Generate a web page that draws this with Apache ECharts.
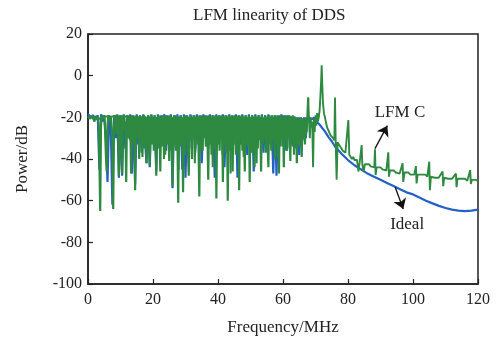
<!DOCTYPE html>
<html><head><meta charset="utf-8">
<script src="https://cdn.jsdelivr.net/npm/echarts@6/dist/echarts.min.js"></script>
<style>html,body{margin:0;padding:0;background:#fff}#c{width:500px;height:342px}</style>
</head><body><div id="c"></div>
<script>
const titleText = 'LFM linearity of DDS';
const xName = 'Frequency/MHz';
const yName = 'Power/dB';
const seriesNames = ['Ideal', 'LFM C'];

// LFM C (green): band samples every 0.25 MHz from 0 to 67.75 MHz (dB)
const lfmStep = 0.25;
const lfmBand = [
  -19.5,-19.8,-20.5,-21,-20.2,-19.5,-19.3,-20,-22,-20,-19.2,-19.6,-21,-23,-40,-65,
  -24,-19,-19.5,-21,-19.5,-26,-38,-46,-24,-19,-19.5,-22,-19.5,-19,-30,-64,
  -24,-19,-20,-28,-19,-22,-48,-20,-19,-36,-47,-20,-19,-26,-22,-51,
  -20,-19,-30,-21,-19,-47,-22,-19,-33,-20,-55,-21,-19,-28,-20,-40,
  -19,-32,-20,-39,-21,-19,-35,-20,-42,-22,-19,-30,-43,-20,-19,-33,
  -20,-36,-19,-28,-48,-20,-31,-19,-26,-46,-20,-34,-19,-30,-22,-38,
  -19,-33,-20,-29,-41,-19,-35,-21,-53,-20,-30,-19,-36,-22,-28,-61,
  -20,-34,-19,-30,-22,-56,-20,-33,-19,-30,-21,-36,-48,-20,-31,-19,
  -40,-20,-30,-19,-35,-21,-29,-19,-33,-58,-20,-31,-19,-36,-22,-30,
  -19,-34,-20,-29,-50,-19,-33,-21,-38,-19,-30,-20,-35,-19,-59,-21,
  -32,-19,-36,-20,-29,-19,-51,-21,-33,-19,-37,-20,-60,-19,-31,-20,
  -35,-19,-46,-21,-30,-19,-38,-20,-33,-19,-55,-21,-31,-19,-36,-20,
  -29,-46,-19,-34,-20,-30,-19,-51,-21,-33,-19,-37,-20,-44,-19,-30,
  -21,-35,-19,-29,-20,-46,-19,-33,-21,-30,-19,-37,-20,-32,-44,-19,
  -31,-20,-35,-19,-29,-21,-40,-19,-33,-20,-30,-47,-19,-34,-21,-29,
  -19,-44,-20,-31,-19,-36,-21,-30,-19,-41,-20,-33,-19,-29,-21,-35,
  -20,-42,-20.5,-31,-20,-34,-21,-39,-20.5,-30,-22,-33,-20,-27,-20,-10.5
];
// LFM C in-between samples (0.125 MHz + k*0.25 MHz), same band
const lfmBandMidStart = 0.125;
const lfmBandMid = [
  -19.6,-20,-20.6,-20.6,-19.8,-19.4,-19.6,-20.5,-21,-19.6,-19.4,-20.3,-21.5,-20.5,-19.8,-20,
  -20.5,-19.4,-19.8,-20.2,-19.6,-20.4,-20,-19.6,-19.5,-19.4,-20,-20.4,-19.5,-19.6,-20.2,-19.8,
  -19.6,-19.5,-20.3,-19.8,-19.5,-20.5,-19.6,-19.5,-20.2,-19.7,-19.5,-20.1,-19.6,-20.4,-19.8,-19.6,
  -19.5,-27,-19.5,-31,-20,-25,-19.5,-29,-20,-33,-19.5,-26,-20,-30,-19.5,-28,
  -20,-31,-19.5,-26,-20,-34,-19.5,-28,-20,-30,-19.5,-37,-20,-27,-19.5,-32,
  -20,-29,-19.5,-33,-20,-26,-19.5,-35,-20,-28,-19.5,-31,-20,-40,-19.5,-27,
  -20,-32,-19.5,-28,-20,-36,-19.5,-30,-20,-26,-19.5,-34,-20,-29,-19.5,-45,
  -20,-27,-19.5,-33,-20,-30,-19.5,-38,-20,-28,-19.5,-32,-20,-26,-19.5,-35,
  -20,-30,-19.5,-42,-20,-27,-19.5,-33,-20,-29,-19.5,-36,-20,-31,-19.5,-26,
  -20,-34,-19.5,-29,-20,-32,-19.5,-27,-20,-44,-19.5,-30,-20,-35,-19.5,-28,
  -20,-31,-19.5,-26,-20,-38,-19.5,-30,-20,-33,-19.5,-28,-20,-36,-19.5,-47,
  -20,-29,-19.5,-33,-20,-27,-19.5,-35,-20,-30,-19.5,-26,-20,-32,-19.5,-39,
  -20,-28,-19.5,-34,-20,-30,-19.5,-26,-20,-37,-19.5,-29,-20,-33,-19.5,-42,
  -20,-27,-19.5,-31,-20,-35,-19.5,-28,-20,-30,-19.5,-34,-20,-26,-19.5,-33,
  -20,-36,-19.5,-29,-20,-31,-19.5,-27,-20,-39,-19.5,-30,-20,-28,-19.5,-34,
  -20.5,-30,-20,-27,-20.5,-35,-20,-29,-20.5,-32,-20,-26,-20.5,-38,-20,-30,
  -20.5,-28,-21,-33,-20.5,-27,-21,-31,-21,-29,-21.5,-26,-21,-24,-20,-19
];
// LFM C tail [MHz, dB]
const lfmTail = [
  [68.0,-21],[68.25,-30],[68.5,-20],[68.75,-25],[69.0,-22],[69.25,-44],[69.5,-21],[69.75,-27],
  [70.0,-19],[70.25,-24],[70.5,-18],[70.75,-22],[71.0,-20],[71.25,-17],[71.5,-10],[71.75,-2],
  [71.9,5],[72.1,-5],[72.3,-13],[72.6,-18],[72.9,-20],[73.3,-23],[73.6,-25],[73.9,-26],
  [74.3,-27.5],[74.6,-28.5],[75.0,-29],[75.4,-30],[75.8,-31],[76.0,-10.5],[76.2,-31],[76.5,-50],
  [76.8,-32],[77.2,-33],[77.6,-34],[78.0,-34.5],[78.4,-36],[78.8,-35.5],[79.2,-37],[79.6,-36.5],
  [80.1,-21.3],[80.4,-38],[80.8,-38.5],[81.2,-40],[81.6,-39],[82.0,-40.5],[82.4,-41],[82.8,-40.5],
  [83.2,-46],[83.6,-41.5],[84.0,-42],[84.2,-33.3],[84.4,-42.5],[84.8,-46],[85.2,-42.5],[85.8,-43],
  [86.4,-42.5],[87.0,-43.5],[87.6,-43],[88.1,-44],[88.3,-35.3],[88.5,-47.7],[88.8,-44],[89.4,-44.5],
  [90.0,-44],[90.6,-45],[91.2,-44.5],[91.8,-45.5],[92.2,-45],[92.4,-36.8],[92.6,-48.5],[92.9,-45.5],
  [93.5,-46],[94.1,-45.5],[94.7,-46.5],[95.3,-46],[95.9,-47],[96.5,-46.5],[96.8,-42],[97.0,-51],
  [97.4,-46.5],[98.0,-47],[98.6,-46.5],[99.2,-47.5],[99.8,-47],[100.4,-47.5],[100.9,-43.4],[101.1,-51.7],
  [101.4,-47.5],[102.0,-48],[102.6,-47.5],[103.2,-48],[103.8,-47.5],[104.4,-48.5],[105.0,-41.3],[105.2,-55],
  [105.5,-48.5],[106.1,-48],[106.7,-49],[107.3,-48.5],[107.9,-49],[108.5,-48.5],[109.1,-46],[109.3,-53],
  [109.6,-49],[110.2,-48.5],[110.8,-49.5],[111.4,-49],[112.0,-49.5],[112.6,-49],[113.2,-47],[113.4,-53.5],
  [113.7,-49.5],[114.3,-50],[114.9,-49.5],[115.5,-50],[116.1,-49.5],[116.7,-50.5],[117.3,-50],[117.6,-45.3],
  [117.8,-52],[118.1,-50],[118.7,-50.5],[119.3,-50],[120.0,-50.5]
];

// Ideal (blue): band samples every 0.5 MHz from 0 to 68 MHz (dB)
const idealStep = 0.5;
const idealBand = [
  -18.5,-19,-20,-19,-18.5,-21,-19,-45,
  -18.5,-22,-19,-30,-51,-19,-24,-62,
  -19,-30,-18.5,-49,-19,-48,-18.5,-35,
  -19,-30,-18.5,-47,-19,-52,-18.5,-33,
  -19,-37,-18.5,-30,-42,-19,-44,-18.5,
  -30,-19,-46,-18.5,-33,-19,-28,-18.5,
  -36,-19,-30,-18.5,-54,-19,-32,-18.5,
  -29,-19,-45,-18.5,-49,-19,-34,-18.5,
  -30,-19,-37,-18.5,-31,-19,-42,-18.5,
  -29,-19,-35,-18.5,-31,-19,-49,-18.5,
  -33,-19,-30,-18.5,-44,-19,-32,-18.5,
  -36,-19,-29,-18.5,-49,-19,-33,-18.5,
  -30,-19,-38,-18.5,-31,-19,-46,-18.5,
  -34,-19,-29,-18.5,-37,-19,-32,-18.5,
  -30,-19,-47,-19,-48,-19,-33,-18.5,
  -31,-19,-36,-19,-30,-19.5,-34,-19.5,
  -32,-20,-38,-20,-31,-20,-30,-21,
  -20
];
// Ideal tail [MHz, dB]
const idealTail = [
  [68.5,-19.5],[69,-21],[69.5,-20],[70,-22],[70.5,-21.5],[71,-23],[71.5,-24],[72,-25],
  [73,-27],[74,-29.5],[75,-31.5],[76,-34],[78,-37.5],[80,-40.5],[82,-43],[84,-45],
  [86,-47],[88,-48.5],[90,-50],[92,-51.5],[94,-53],[96,-54.5],[98,-56],[100,-57],
  [102,-58.5],[104,-60],[106,-61.3],[108,-62.5],[110,-63.5],[112,-64.3],[114,-64.8],[116,-65],
  [118,-64.8],[120,-64.3]
];

// annotation anchors (data units)
const lfmArrow = [[88.3,-35], [92.1,-24]];
const idealArrow = [[94.5,-53.4], [97.0,-64]];
const lfmLabelAt = [96,-17.5];
const idealLabelAt = [98.2,-71.3];

const idealData = idealBand.map((v,i)=>[i*idealStep, v]).concat(idealTail);
const lfmBandData = lfmBand.map((v,i)=>[i*lfmStep, v]);
const lfmMidData = lfmBandMid.map((v,i)=>[lfmBandMidStart + i*lfmStep, v]);
const lfmTailData = [lfmBandData[lfmBandData.length-1]].concat(lfmTail);

const serif = '"Liberation Serif","Times New Roman",serif';
const ink = '#222';
const green = '#2e8a40';
const blue = '#2460c8';
const arrowStyle = {color:'#111', width:1.3, type:'solid'};
const textLabel = {show:true, position:'inside', formatter:'{b}', fontFamily:serif, fontSize:17, color:ink};

const chart = echarts.init(document.getElementById('c'), null, {renderer:'canvas'});
chart.setOption({
  animation:false,
  backgroundColor:'#fff',
  title:{text:titleText, left:188, top:2, textStyle:{fontFamily:serif, fontSize:17, fontWeight:'normal', color:ink}},
  grid:{left:88, right:22, top:34, bottom:58, show:true, borderColor:ink, borderWidth:1.5, backgroundColor:'transparent'},
  xAxis:{type:'value', min:0, max:120, interval:20, name:xName, nameLocation:'middle', nameGap:35,
    nameTextStyle:{fontFamily:serif, fontSize:17, color:ink},
    axisLine:{show:true, onZero:false, lineStyle:{color:ink, width:1.5}},
    axisTick:{show:true, inside:true, length:5, lineStyle:{color:ink, width:1.2}},
    axisLabel:{fontFamily:serif, fontSize:16, color:ink, margin:8},
    splitLine:{show:false}},
  yAxis:{type:'value', min:-100, max:20, interval:20, name:yName, nameLocation:'middle', nameGap:57,
    nameTextStyle:{fontFamily:serif, fontSize:17, color:ink},
    axisLine:{show:true, onZero:false, lineStyle:{color:ink, width:1.5}},
    axisTick:{show:true, inside:true, length:5, lineStyle:{color:ink, width:1.2}},
    axisLabel:{fontFamily:serif, fontSize:16, color:ink, margin:6},
    splitLine:{show:false}},
  series:[
    {name:seriesNames[0], type:'line', data:idealData, symbol:'none', sampling:false,
     lineStyle:{color:blue, width:2.2}, z:2,
     markLine:{silent:true, symbol:['none','arrow'], symbolSize:10,
       lineStyle:arrowStyle, itemStyle:{color:'#111'}, label:{show:false},
       data:[[{coord:idealArrow[0]},{coord:idealArrow[1]}]]},
     markPoint:{silent:true, symbol:'rect', symbolSize:1, itemStyle:{color:'rgba(0,0,0,0)'},
       label:textLabel, data:[{name:seriesNames[0], coord:idealLabelAt}]}
    },
    {name:seriesNames[1], type:'line', data:lfmBandData, symbol:'none', sampling:false,
     lineStyle:{color:green, width:2.2}, z:3},
    {name:seriesNames[1], type:'line', data:lfmMidData, symbol:'none', sampling:false,
     lineStyle:{color:green, width:2}, z:3},
    {name:seriesNames[1], type:'line', data:lfmTailData, symbol:'none', sampling:false,
     lineStyle:{color:green, width:1.9}, z:3,
     markLine:{silent:true, symbol:['none','arrow'], symbolSize:10,
       lineStyle:arrowStyle, itemStyle:{color:'#111'}, label:{show:false},
       data:[[{coord:lfmArrow[0]},{coord:lfmArrow[1]}]]},
     markPoint:{silent:true, symbol:'rect', symbolSize:1, itemStyle:{color:'rgba(0,0,0,0)'},
       label:textLabel, data:[{name:seriesNames[1], coord:lfmLabelAt}]}
    }
  ]
});
</script>
</body></html>
